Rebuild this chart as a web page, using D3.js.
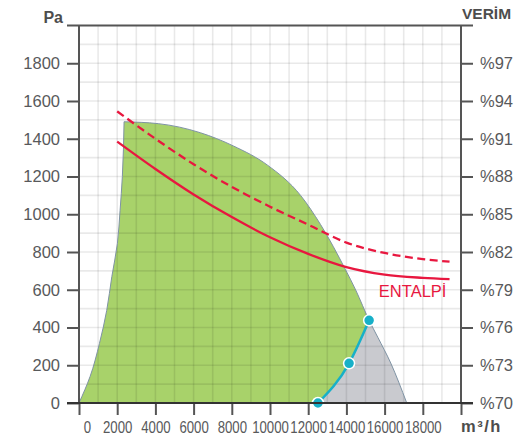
<!DOCTYPE html>
<html>
<head>
<meta charset="utf-8">
<script src="https://cdn.jsdelivr.net/npm/d3@7"></script>
<style>
body { margin: 0; background: #fff; }
svg { display: block; font-family: "Liberation Sans", Arial, sans-serif; }
</style>
</head>
<body>
<script>
// axis ticks
const flowTicks = d3.range(0, 20001, 2000);
const pressureTicks = d3.range(0, 1801, 200);
const verimTicks = d3.range(70, 98, 3);

// fan envelope (m3/h, Pa)
const envLeftFlow = [0, 580, 1070, 1450, 1720, 2010, 2150, 2270, 2360];
const envLeftPa = [0, 140, 315, 490, 670, 845, 1020, 1200, 1490];
const envTopFlow = [2360, 4150, 6350, 8080, 9870, 11600, 12650, 13960, 14490, 15190, 15640, 16320, 17160];
const envTopPa = [1490, 1480, 1432, 1362, 1260, 1100, 945, 705, 598, 438, 349, 212, 0];

// system curve with working points
const workFlow = [12510, 14140, 15190];
const workPa = [0, 210, 438];

// enthalpy efficiency curves
const entalpiFlow = [2000, 4000, 6000, 8000, 10000, 12000, 14000, 16000, 18000, 19400];
const entalpiSolid = [1385, 1240, 1105, 985, 878, 790, 720, 680, 663, 656];
const entalpiDashed = [1545, 1400, 1265, 1145, 1040, 945, 850, 795, 762, 749];

const zip = (a, b) => a.map((v, i) => [v, b[i]]);

let width = 522, height = 441;
let svg = d3.select("body").append("svg")
    .attr("width", width)
    .attr("height", height);

let x = d3.scaleLinear([0, 20000], [79, 461]);
let y = d3.scaleLinear([0, 2000], [403, 25.5]);
let yR = d3.scaleLinear([70, 100], [403, 25.5]);

let line = d3.line()
    .x(d => x(d[0]))
    .y(d => y(d[1]))
    .curve(d3.curveMonotoneX);
let lineY = d3.line()
    .x(d => x(d[0]))
    .y(d => y(d[1]))
    .curve(d3.curveMonotoneY);
let join = path => path.replace(/^M/, "L");

let leftPts = zip(envLeftFlow, envLeftPa);
let topPts = zip(envTopFlow, envTopPa);
let workPts = zip(workFlow, workPa);
let k = envTopFlow.indexOf(workFlow[workFlow.length - 1]);

// green area (left of system curve)
svg.append("path")
    .attr("fill", "#a8d26a")
    .attr("d", lineY(leftPts) + join(line(topPts.slice(0, k + 1))) +
               join(line(workPts.slice().reverse())) + "Z");

// gray area (right of system curve)
svg.append("path")
    .attr("fill", "#c9cacf")
    .attr("d", line(workPts) + join(line(topPts.slice(k))) + "Z");

// grid
let grid = svg.append("g")
    .attr("stroke", "#000")
    .attr("stroke-opacity", 0.085)
    .attr("stroke-width", 1.6);
grid.selectAll("line.v")
    .data(d3.range(1000, 20000, 1000))
    .join("line")
      .attr("class", "v")
      .attr("x1", d => x(d)).attr("x2", d => x(d))
      .attr("y1", y(2000)).attr("y2", y(0));
grid.selectAll("line.h")
    .data(d3.range(100, 2000, 100))
    .join("line")
      .attr("class", "h")
      .attr("y1", d => y(d)).attr("y2", d => y(d))
      .attr("x1", x(0)).attr("x2", x(20000));

// envelope outline
svg.append("path")
    .attr("fill", "none")
    .attr("stroke", "#7f93a4")
    .attr("stroke-width", 1)
    .attr("d", lineY(leftPts) + join(line(topPts)));

// enthalpy curves
svg.append("path")
    .attr("fill", "none")
    .attr("stroke", "#e8173f")
    .attr("stroke-width", 2.3)
    .attr("d", line(zip(entalpiFlow, entalpiDashed)))
    .attr("stroke-dasharray", "8,4.5");
svg.append("path")
    .attr("fill", "none")
    .attr("stroke", "#e8173f")
    .attr("stroke-width", 2.3)
    .attr("d", line(zip(entalpiFlow, entalpiSolid)));

svg.append("text")
    .attr("x", x(15700))
    .attr("y", y(560))
    .attr("fill", "#e8173f")
    .style("font-size", "16.5px")
    .text("ENTALPİ");

// system curve
svg.append("path")
    .attr("fill", "none")
    .attr("stroke", "#17b0c8")
    .attr("stroke-width", 2.5)
    .attr("d", line(workPts));
svg.append("g")
    .selectAll("circle")
    .data(workPts)
    .join("circle")
      .attr("cx", d => x(d[0]))
      .attr("cy", d => y(d[1]))
      .attr("r", 5.5)
      .attr("fill", "#17b0c8")
      .attr("stroke", "#fff")
      .attr("stroke-width", 1.5);

// axes
let axisColor = "#555";
let labelColor = "#58595b";

function styleAxis(g) {
    g.select(".domain").remove();
    g.selectAll(".tick line").attr("stroke", axisColor).attr("stroke-width", 2);
    g.selectAll(".tick text")
        .attr("fill", labelColor)
        .style("font-size", "16.5px")
        .attr("font-family", null);
}

svg.append("g")
    .attr("transform", `translate(${x(0)},0)`)
    .call(d3.axisLeft(y).tickValues(pressureTicks).tickSize(12).tickPadding(7)
        .tickFormat(d3.format("d")))
    .call(styleAxis);

svg.append("g")
    .attr("transform", `translate(${x(20000)},0)`)
    .call(d3.axisRight(yR).tickValues(verimTicks).tickSize(12).tickPadding(7)
        .tickFormat(d => "%" + d))
    .call(styleAxis);

svg.append("g")
    .attr("transform", `translate(0,${y(0)})`)
    .call(d3.axisBottom(x).tickValues(flowTicks).tickSize(12).tickPadding(6)
        .tickFormat(d => d === 20000 ? "" : d))
    .call(styleAxis)
    .call(g => g.selectAll(".tick text")
        .attr("transform", "scale(0.8,1)")
        .attr("x", d => d === 0 ? 10 : 0));

// frame lines
let frame = svg.append("g")
    .attr("stroke-width", 2);
frame.append("line")
    .attr("stroke", axisColor)
    .attr("x1", x(0)).attr("x2", x(0))
    .attr("y1", y(2000)).attr("y2", y(0));
frame.append("line")
    .attr("stroke", axisColor)
    .attr("x1", x(20000)).attr("x2", x(20000))
    .attr("y1", y(2000)).attr("y2", y(0));
frame.append("line")
    .attr("stroke", axisColor)
    .attr("x1", x(0) - 12).attr("x2", x(20000) + 12)
    .attr("y1", y(2000)).attr("y2", y(2000));
frame.append("line")
    .attr("stroke", "#333")
    .attr("x1", x(0) - 12).attr("x2", x(20000) + 12)
    .attr("y1", y(0)).attr("y2", y(0));

// titles
svg.append("text")
    .attr("x", 63)
    .attr("y", 23)
    .attr("text-anchor", "end")
    .attr("fill", "#4d4d4d")
    .style("font-size", "16px")
    .style("font-weight", "bold")
    .text("Pa");
svg.append("text")
    .attr("x", 462)
    .attr("y", 18.5)
    .attr("fill", "#4d4d4d")
    .style("font-size", "15.5px")
    .style("font-weight", "bold")
    .text("VERİM");
svg.append("text")
    .attr("x", 461)
    .attr("y", 432)
    .attr("fill", "#4d4d4d")
    .style("font-size", "16.5px")
    .style("font-weight", "bold")
    .style("letter-spacing", "1.5px")
    .text("m³/h");
</script>
</body>
</html>
